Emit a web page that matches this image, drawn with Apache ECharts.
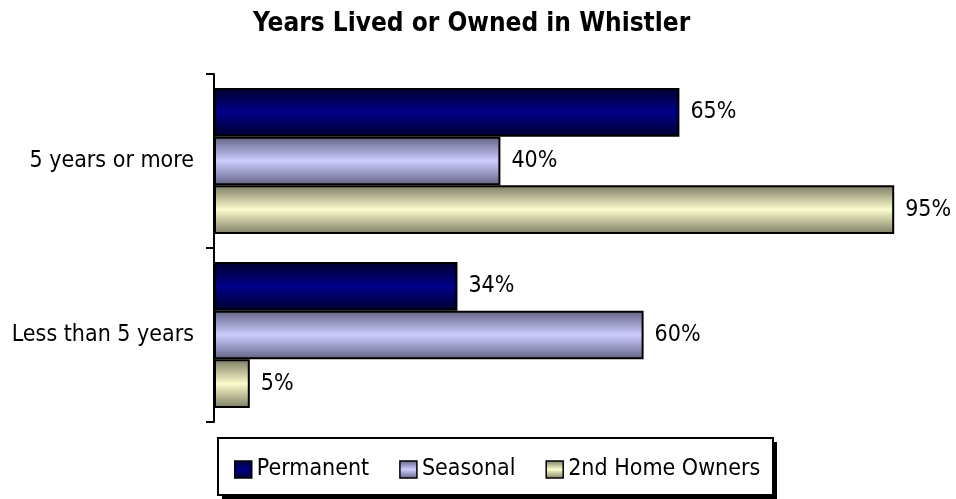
<!DOCTYPE html>
<html>
<head>
<meta charset="utf-8">
<script src="https://cdn.jsdelivr.net/npm/echarts@6/dist/echarts.min.js"></script>
<style>
html,body{margin:0;padding:0;background:#fff;}
#chart{width:956px;height:499px;}
</style>
</head>
<body>
<div id="chart"></div>
<script>
const titleText = 'Years Lived or Owned in Whistler';
const categories = ['5 years or more', 'Less than 5 years'];
const seriesNames = ['Permanent', 'Seasonal', '2nd Home Owners'];
const permanent = [65, 34];
const seasonal = [40, 60];
const secondHome = [95, 5];

const FONT = "'DejaVu Sans Condensed', 'DejaVu Sans', sans-serif";

function grad(dark, light) {
  return new echarts.graphic.LinearGradient(0, 0, 0, 1, [
    {offset: 0, color: dark},
    {offset: 0.5, color: light},
    {offset: 1, color: dark}
  ]);
}
const fills = [
  grad('#00002e', '#000088'),
  grad('#626284', '#ccccff'),
  grad('#7c7c64', '#fbfbcc')
];

const chart = echarts.init(document.getElementById('chart'), null, {renderer: 'canvas'});

function mkSeries(name, data, i) {
  return {
    name: name,
    type: 'bar',
    data: data,
    barGap: '0%',
    barCategoryGap: '16%',
    itemStyle: {color: fills[i], borderColor: '#000', borderWidth: 2},
    label: {
      show: true, position: 'right', distance: 11,
      formatter: '{c}%', color: '#000', fontSize: 23, fontFamily: FONT
    },
    emphasis: {disabled: true},
    animation: false
  };
}

chart.setOption({
  animation: false,
  title: {
    text: titleText, left: 248, top: 6,
    textStyle: {fontFamily: FONT, fontWeight: 'bold', fontSize: 26, color: '#000'}
  },
  grid: {left: 214, right: 26, top: 74, bottom: 77, containLabel: false},
  xAxis: {
    type: 'value', min: 0, max: 100, interval: 20,
    show: false
  },
  yAxis: {
    type: 'category', data: categories, inverse: true,
    axisLine: {show: true, lineStyle: {color: '#000', width: 2}},
    axisTick: {show: true, length: 8, lineStyle: {color: '#000', width: 2}},
    axisLabel: {color: '#000', fontSize: 23, fontFamily: FONT, margin: 20},
    splitLine: {show: false}
  },
  legend: {
    left: 229, top: 453,
    itemWidth: 17, itemHeight: 17, itemGap: 30,
    icon: 'rect',
    itemStyle: {borderColor: '#000', borderWidth: 1.5},
    textStyle: {color: '#000', fontSize: 23, fontFamily: FONT},
    data: seriesNames
  },
  graphic: [
    {type: 'rect', z: -1, shape: {x: 222, y: 442, width: 555, height: 57}, style: {fill: '#000'}, silent: true},
    {type: 'rect', z: 0, shape: {x: 218, y: 438, width: 555, height: 57}, style: {fill: '#fff', stroke: '#000', lineWidth: 2}, silent: true}
  ],
  series: [
    mkSeries(seriesNames[0], permanent, 0),
    mkSeries(seriesNames[1], seasonal, 1),
    mkSeries(seriesNames[2], secondHome, 2)
  ]
});
</script>
</body>
</html>
